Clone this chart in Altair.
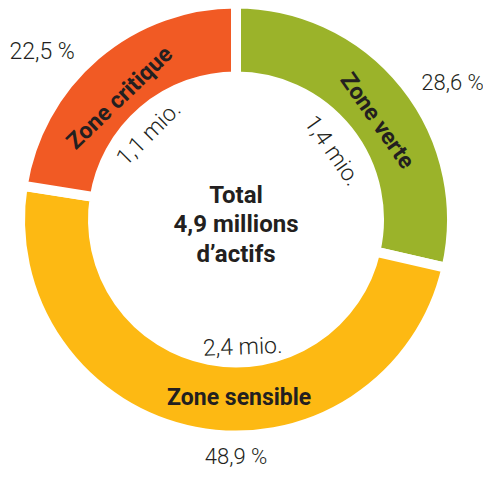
import altair as alt
import pandas as pd

# ---- data ----
zones = ["Zone verte", "Zone sensible", "Zone critique"]
shares = [28.6, 48.9, 22.5]
amounts = ["1,4 mio.", "2,4 mio.", "1,1 mio."]
pct_labels = ["28,6 %", "48,9 %", "22,5 %"]
colors = ["#9BB32A", "#FDB913", "#F15A24"]
center_lines = ["Total", "4,9 millions", "d\u2019actifs"]

df = pd.DataFrame({
    "zone": zones,
    "share": shares,
    "amount": amounts,
    "pct": pct_labels,
    "idx": list(range(len(zones))),
})

W, H = 456, 423
R_OUT, R_IN, GAP = 211, 148, 10
TXT = "#231F20"
FONT = "Roboto"

theta_scale = alt.Scale(domain=[0, 100])
color_scale = alt.Scale(domain=zones, range=colors)

base = alt.Chart(df)

arcs = base.mark_arc(
    radius=R_OUT + GAP / 2, radius2=R_IN - GAP / 2,
    stroke="white", strokeWidth=GAP,
).encode(
    theta=alt.Theta("share:Q", stack=True, scale=theta_scale),
    order=alt.Order("idx:O"),
    color=alt.Color("zone:N", scale=color_scale, legend=None),
)

# label styling per zone: (theta offset in deg, radius, rotation, font size)
name_style = {
    "Zone verte": (3.6, 172, 55, 23),
    "Zone sensible": (-12, 179, 0, 23),
    "Zone critique": (-3.2, 168, 316, 23),
}
amount_style = {
    "Zone verte": (3.0, 118, 55, 23),
    "Zone sensible": (-14, 128, 358, 23),
    "Zone critique": (-5, 122, 315, 23),
}
pct_style = {
    "Zone verte": (6.3, 256, 0, 22),
    "Zone sensible": (-11, 237, 0, 22),
    "Zone critique": (-8.7, 256, 0, 23),
}

positioned = base.transform_window(
    cum="sum(share)", sort=[alt.SortField("idx")], frame=[None, 0]
).transform_calculate(
    mid="datum.cum - datum.share / 2"
)

layers = [arcs]
for field, styles, weight in [
    ("zone", name_style, "bold"),
    ("amount", amount_style, 300),
    ("pct", pct_style, 300),
]:
    for z in zones:
        off, r, ang, size = styles[z]
        layers.append(
            positioned.transform_filter(alt.datum.zone == z).mark_text(
                radius=r, thetaOffset=off * 3.14159265 / 180, angle=ang,
                font=FONT, fontSize=size, fontWeight=weight, color=TXT,
                align="center", baseline="middle",
            ).encode(
                theta=alt.Theta("mid:Q", stack=None, scale=theta_scale),
                text=alt.Text(f"{field}:N"),
            )
        )

center = alt.Chart(pd.DataFrame({"t": ["\n".join(center_lines)]})).mark_text(
    font=FONT, fontSize=24, fontWeight="bold", color=TXT,
    align="center", baseline="middle", lineBreak="\n", lineHeight=29.5,
).encode(
    x=alt.value(W / 2), y=alt.value(H / 2 - 24), text="t:N"
)
layers.append(center)

chart = alt.layer(*layers).properties(
    width=W, height=H,
    padding={"left": 0, "top": 0, "right": 19, "bottom": 36},
    autosize=alt.AutoSizeParams(type="none"),
).configure_view(stroke=None)

chart.save("out.html", embed_options={"renderer": "svg", "actions": False})
